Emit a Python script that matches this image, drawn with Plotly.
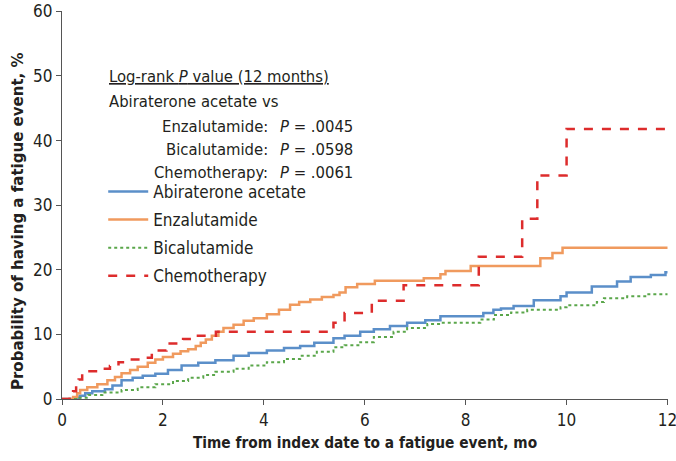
import plotly.graph_objects as go

# Abiraterone acetate
abi_t = [0, 0.25, 0.35, 0.46, 0.6, 0.85, 1.0, 1.18, 1.4, 1.6, 1.85, 2.1, 2.37, 2.7, 3.04, 3.4, 3.7, 4.06, 4.4, 4.72, 5.0, 5.38, 5.6, 5.91, 6.18, 6.5, 6.84, 7.2, 7.5, 8.35, 8.55, 8.7, 8.95, 9.35, 9.88, 10.0, 10.5, 11.0, 11.27, 11.67, 11.96, 12.0]
abi_v = [0, 0.2, 0.5, 0.9, 1.2, 1.5, 2.1, 2.9, 3.3, 3.6, 3.9, 4.5, 5.2, 5.6, 6.0, 6.7, 7.1, 7.5, 7.9, 8.2, 8.7, 9.4, 9.8, 10.4, 10.8, 11.3, 11.8, 12.2, 12.8, 13.3, 13.8, 14.0, 14.4, 15.3, 15.9, 16.5, 17.4, 18.2, 18.9, 19.2, 19.6, 19.6]

# Enzalutamide
enz_t = [0, 0.22, 0.30, 0.36, 0.5, 0.7, 0.9, 1.05, 1.18, 1.35, 1.5, 1.7, 1.85, 2.0, 2.2, 2.35, 2.5, 2.65, 2.75, 2.85, 2.97, 3.1, 3.2, 3.4, 3.6, 3.8, 4.06, 4.3, 4.52, 4.7, 4.92, 5.15, 5.38, 5.5, 5.62, 5.85, 6.2, 7.17, 7.5, 7.6, 8.1, 9.48, 9.72, 9.92, 12.0]
enz_v = [0, 0.3, 0.9, 1.4, 1.8, 2.3, 2.9, 3.4, 4.0, 4.5, 5.0, 5.6, 6.1, 6.5, 7.0, 7.4, 7.7, 8.2, 8.7, 9.2, 9.8, 10.4, 11.0, 11.5, 12.1, 12.5, 13.1, 13.8, 14.6, 15.0, 15.4, 15.8, 16.1, 16.5, 17.3, 17.8, 18.3, 18.7, 19.3, 19.8, 20.6, 21.8, 22.6, 23.4, 23.4]

# Bicalutamide
bic_t = [0, 0.3, 0.52, 0.8, 1.18, 1.5, 1.85, 2.2, 2.5, 2.8, 3.04, 3.4, 3.7, 4.06, 4.4, 4.72, 5.05, 5.38, 5.6, 5.91, 6.18, 6.57, 6.84, 7.24, 7.5, 8.29, 8.56, 8.9, 9.22, 9.88, 10.0, 10.6, 10.74, 11.2, 11.6, 12.0]
bic_v = [0, 0.2, 0.6, 1.0, 1.4, 1.8, 2.3, 2.8, 3.3, 3.7, 4.2, 4.7, 5.2, 5.7, 6.2, 6.7, 7.3, 8.0, 8.3, 8.8, 9.6, 10.4, 11.0, 11.6, 11.8, 12.3, 13.0, 13.4, 13.8, 14.2, 14.5, 15.0, 15.6, 15.9, 16.2, 16.2]

# Chemotherapy
chemo_t = [0, 0.15, 0.22, 0.28, 0.33, 0.40, 0.72, 0.95, 1.12, 1.35, 1.58, 1.78, 2.07, 2.40, 2.65, 3.05, 5.38, 5.60, 6.14, 6.77, 8.26, 9.12, 9.42, 10.0, 12.0]
chemo_v = [0, 0.4, 1.2, 2.2, 3.0, 4.3, 4.7, 5.1, 5.7, 6.1, 6.4, 7.5, 8.6, 9.3, 9.8, 10.4, 11.8, 13.3, 15.2, 17.6, 22.0, 27.9, 34.6, 41.8, 41.8]

x_ticks = [0, 2, 4, 6, 8, 10, 12]
y_ticks = [0, 10, 20, 30, 40, 50, 60]

pvalue_labels = ["Enzalutamide:", "Bicalutamide:", "Chemotherapy:"]
pvalue_values = [".0045", ".0598", ".0061"]

FONT = "Liberation Sans Narrow, DejaVu Sans Condensed, Arial Narrow, sans-serif"
TXT = "#231f20"

fig = go.Figure()
series = [
    (abi_t, abi_v, "Abiraterone acetate", dict(color="#5b8fc9", width=2.5)),
    (enz_t, enz_v, "Enzalutamide", dict(color="#f09a5e", width=2.5)),
    (bic_t, bic_v, "Bicalutamide", dict(color="#5aa64a", width=2, dash="dot")),
    (chemo_t, chemo_v, "Chemotherapy", dict(color="#dd2c2c", width=2.5, dash="dash")),
]
for i, (t, v, name, line) in enumerate(series):
    fig.add_trace(go.Scatter(x=t, y=v, mode="lines", line_shape="hv", name=name,
                             legendgroup=f"g{i}", line=line))

annotations = [
    dict(x=0.89, y=49.9, text="<u>Log-rank <i>P</i> value (12 months)</u>",
         xanchor="left", yanchor="middle", showarrow=False),
    dict(x=0.89, y=46.0, text="Abiraterone acetate vs",
         xanchor="left", yanchor="middle", showarrow=False),
]
row_y = [42.2, 38.6, 35.1]
for lab, val, yy in zip(pvalue_labels, pvalue_values, row_y):
    annotations.append(dict(x=4.13, y=yy, text=lab, xanchor="right", yanchor="middle", showarrow=False))
    annotations.append(dict(x=4.29, y=yy, text="<i>P</i> = " + val, xanchor="left", yanchor="middle", showarrow=False))
annotations = [dict(a, font=dict(size=16.5, family=FONT, color=TXT)) for a in annotations]
annotations.append(dict(xref="paper", yref="paper", x=-0.073, y=0.458,
                        text="<b>Probability of having a fatigue event, %</b>",
                        textangle=-90, showarrow=False, xanchor="center", yanchor="middle",
                        font=dict(size=16.7, family=FONT, color=TXT)))

fig.update_layout(
    width=676, height=461,
    margin=dict(l=62, r=8, t=11, b=62, autoexpand=False),
    paper_bgcolor="white", plot_bgcolor="white",
    font=dict(family=FONT, size=17, color=TXT),
    showlegend=True,
    legend=dict(x=0.068, y=0.58, xanchor="left", yanchor="top",
                bgcolor="rgba(0,0,0,0)", font=dict(size=17, family=FONT, color=TXT),
                itemwidth=40, tracegroupgap=3),
    annotations=annotations,
    xaxis=dict(range=[0, 12.01], tickvals=x_ticks, ticks="outside", ticklen=5,
               tickcolor="#555", showline=True, linecolor="#555", linewidth=1.2,
               showgrid=False, zeroline=False, ticklabeloverflow="allow", automargin=False,
               tickfont=dict(size=17, family=FONT, color=TXT),
               title=dict(text="<b>Time from index date to a fatigue event, mo</b>",
                          font=dict(size=15.3, family=FONT, color=TXT), standoff=8)),
    yaxis=dict(range=[0, 60.05], tickvals=y_ticks, ticks="outside", ticklen=5,
               tickcolor="#555", showline=True, linecolor="#555", linewidth=1.2,
               showgrid=False, zeroline=False, ticklabeloverflow="allow", automargin=False,
               tickfont=dict(size=17, family=FONT, color=TXT)),
)

fig.write_html("out.html", config={"displayModeBar": False},
               post_script="document.body.style.margin='0';")
